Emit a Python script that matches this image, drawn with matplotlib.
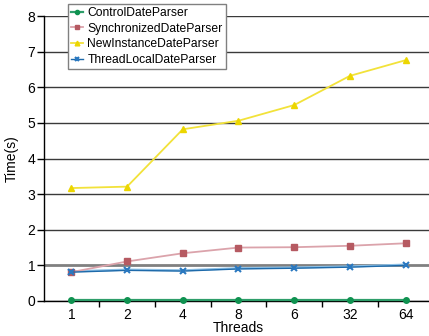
import numpy as np
import matplotlib
matplotlib.use("Agg")
import matplotlib.pyplot as plt

plt.rcParams["font.family"] = ["Liberation Sans", "DejaVu Sans"]

threads = ["1", "2", "4", "8", "6", "32", "64"]
control = [0.02, 0.02, 0.02, 0.02, 0.02, 0.02, 0.02]
synchronized = [0.81, 1.11, 1.34, 1.50, 1.51, 1.55, 1.62]
new_instance = [3.17, 3.21, 4.82, 5.06, 5.50, 6.32, 6.76]
thread_local = [0.81, 0.86, 0.84, 0.90, 0.92, 0.95, 1.00]

fig = plt.figure(figsize=(4.29, 3.36), dpi=100)
ax = fig.add_axes([43.5 / 429, 35 / 336, 390 / 429, 285 / 336])

x = np.arange(len(threads))

ax.plot(x, control, color="#2e9e6a", lw=1.6, marker="o", ms=4,
        mfc="#0f9250", mec="#0f9250", label="ControlDateParser", clip_on=False, zorder=5)
ax.plot(x, synchronized, color="#dba3ab", lw=1.3, marker="s", ms=4.5,
        mfc="#b65a62", mec="#b65a62", label="SynchronizedDateParser", zorder=4)
ax.plot(x, new_instance, color="#f2e23a", lw=1.3, marker="^", ms=4.5,
        mfc="#ecd600", mec="#ecd600", label="NewInstanceDateParser", zorder=4)
# light blue shadow under the blue line
ax.plot(x, np.array(thread_local) + 0.02, color="#8cc0e6", lw=1.6, zorder=3)
ax.plot(x, thread_local, color="#1e6aaa", lw=1.0, marker="x", ms=4.5, mew=1.5,
        mec="#2a78c0", label="ThreadLocalDateParser", zorder=4)

ax.set_xlim(-0.5, len(threads) - 0.5)
ax.set_ylim(0, 8)
ax.set_yticks(range(0, 9))
ax.set_xticks(x)
ax.set_xticklabels(threads)
ax.set_xticks(np.arange(0.5, len(threads) - 0.5, 1), minor=True)
ax.tick_params(axis="x", which="major", length=0, labelsize=10, pad=5)
ax.tick_params(axis="x", which="minor", length=4, width=1, direction="out", color="black")
ax.tick_params(axis="y", length=5, width=1, direction="out", labelsize=10, pad=1)

ax.grid(axis="y", color="#3a3a3a", lw=1.0)
ax.yaxis.get_gridlines()[1].set_color("#808080")
ax.yaxis.get_gridlines()[1].set_linewidth(2.0)
ax.set_axisbelow(True)

for side in ["top", "right"]:
    ax.spines[side].set_visible(False)
ax.spines["left"].set_linewidth(1.0)
ax.spines["bottom"].set_linewidth(1.0)

ax.set_xlabel("Threads", fontsize=10, labelpad=-1)
ax.set_ylabel("Time(s)", fontsize=10, labelpad=6)

leg = ax.legend(loc="upper left", bbox_to_anchor=(68 / 429, 1 - 4 / 336),
                bbox_transform=fig.transFigure, borderaxespad=0, fontsize=8.7,
                fancybox=False, framealpha=1, edgecolor="#808080",
                handlelength=1.0, handletextpad=0.35, labelspacing=0.3,
                borderpad=0.25, markerscale=0.75)
leg.get_frame().set_linewidth(1.0)

fig.savefig("out.png", dpi=100)
